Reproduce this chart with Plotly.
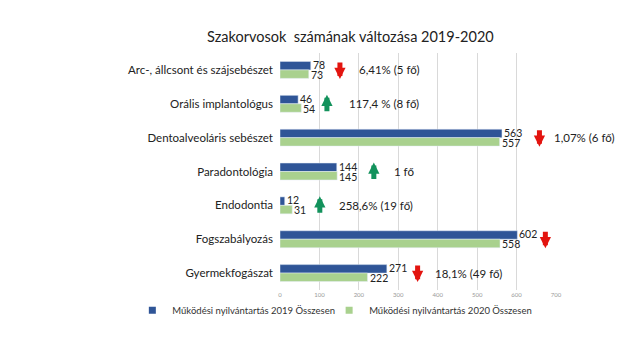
import plotly.graph_objects as go

categories = ["Arc-, állcsont és szájsebészet", "Orális implantológus", "Dentoalveoláris sebészet",
              "Paradontológia", "Endodontia", "Fogszabályozás", "Gyermekfogászat"]
v2019 = [78, 46, 563, 144, 12, 602, 271]
v2020 = [73, 54, 557, 145, 31, 558, 222]
series_names = ["Működési nyilvántartás 2019 Összesen", "Működési nyilvántartás 2020 Összesen"]
change_text = ["6,41% (5 fő)", "117,4 % (8 fő)", "1,07% (6 fő)", "1 fő", "258,6% (19 fő)",
               "7,31% (44 fő)", "18,1% (49 fő)"]
direction = ["down", "up", "down", "up", "up", "down", "down"]
arrow_x = [152, 119, 658, 238, 101, 673, 349]
text_x = [195, 170, 691, 283, 144, 709, 387]
ticks = [0, 100, 200, 300, 400, 500, 600, 700]

font = "Lato, 'Open Sans', sans-serif"
blue = "#2F5597"
green = "#A9D18E"

fig = go.Figure()
fig.add_trace(go.Bar(y=categories, x=v2019, orientation="h", name=series_names[0],
                     marker_color=blue, showlegend=False))
fig.add_trace(go.Bar(y=categories, x=v2020, orientation="h", name=series_names[1],
                     marker_color=green, showlegend=False))
# legend entries with small square keys
fig.add_trace(go.Scatter(x=[None], y=[None], mode="markers", name=series_names[0],
                         marker=dict(symbol="square", size=7, color=blue), legend="legend"))
fig.add_trace(go.Scatter(x=[None], y=[None], mode="markers", name=series_names[1],
                         marker=dict(symbol="square", size=7, color=green), legend="legend2"))

# value labels next to bar ends
for c, a, b in zip(categories, v2019, v2020):
    fig.add_annotation(x=a, y=c, xref="x", yref="y", text=str(a), showarrow=False, xanchor="left",
                       xshift=0, yshift=5, font=dict(size=10.5, color="#222", family=font))
    fig.add_annotation(x=b, y=c, xref="x", yref="y", text=str(b), showarrow=False, xanchor="left",
                       xshift=0, yshift=-5, font=dict(size=10.5, color="#222", family=font))

for c, t, d, ax_, tx in zip(categories, change_text, direction, arrow_x, text_x):
    col = "#E3140F" if d == "down" else "#13925C"
    fig.add_annotation(x=ax_, y=c, xref="x", yref="y", text="", showarrow=True,
                       ax=0, ay=(-18 if d == "down" else 18), yshift=(-9 if d == "down" else 9),
                       arrowhead=2, arrowsize=0.45, arrowwidth=5, arrowcolor=col, standoff=0)
    fig.add_annotation(x=tx, y=c, xref="x", yref="y", text=t, showarrow=False, xanchor="left",
                       font=dict(size=11.5, color="#222", family=font))

leg_common = dict(orientation="h", xref="paper", yref="paper", xanchor="left", y=-0.085,
                  yanchor="middle", font=dict(size=9.5, color="#333"), itemwidth=30,
                  bgcolor="rgba(0,0,0,0)")

fig.update_layout(
    width=640, height=360,
    paper_bgcolor="white", plot_bgcolor="white",
    margin=dict(l=272, r=92, t=45, b=78, autoexpand=False),
    title=dict(text="Szakorvosok  számának változása 2019-2020", x=0.535, xanchor="center",
               y=0.919, yanchor="middle", font=dict(size=14.5, color="#222", family=font)),
    font=dict(family=font, color="#222"),
    barmode="group", bargap=0.5, bargroupgap=0,
    showlegend=True,
    legend=dict(x=-0.535, **leg_common),
    legend2=dict(x=0.178, **leg_common),
    xaxis=dict(range=[0, 700], tickvals=ticks, showgrid=True, gridcolor="#D9D9D9", gridwidth=1,
               zeroline=False, showline=False, tickfont=dict(size=6, color="#999"), ticks="",
               automargin=False),
    yaxis=dict(autorange="reversed", tickfont=dict(size=11.5, color="#222"), showgrid=False,
               ticks="", showline=False, automargin=False, ticklabelstandoff=6),
)
fig.write_html("out.html")
